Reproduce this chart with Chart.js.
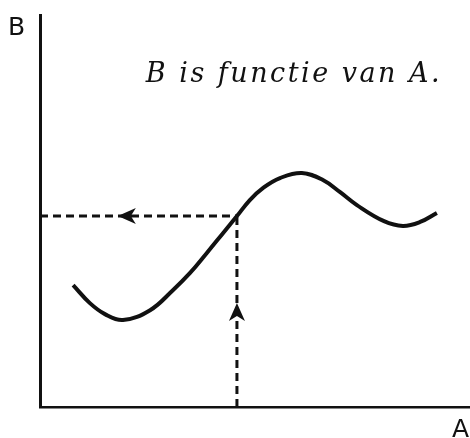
<!DOCTYPE html>
<html>
<head>
<meta charset="utf-8">
<script src="https://cdn.jsdelivr.net/npm/chart.js@4.4.0/dist/chart.umd.min.js"></script>
<style>
html,body{margin:0;padding:0;background:#fff;}
#wrap{width:470px;height:438px;position:relative;}
</style>
</head>
<body>
<div id="wrap"><canvas id="c" width="470" height="438"></canvas></div>
<script>
// Curve: B as a function of A
const curveA = [0.77, 1.16, 1.51, 1.93, 2.56, 3.09, 3.49, 3.88, 4.26, 4.58, 4.88, 5.19, 5.58, 6.09, 6.58, 6.98, 7.37, 8.00, 8.44, 8.84, 9.23];
const curveB = [3.11, 2.65, 2.37, 2.22, 2.47, 2.98, 3.42, 3.93, 4.44, 4.87, 5.28, 5.59, 5.84, 5.97, 5.79, 5.48, 5.15, 4.74, 4.62, 4.72, 4.95];
// Read-off point
const pickA = 4.58;
const pickB = 4.87;
// Arrow positions along the dashed guides
const arrowLeftA = 1.81;
const arrowUpB = 2.65;
const axisNames = ["A", "B"];
const titleText = "B is functie van A.";

const curvePts = curveA.map((a, i) => ({x: a, y: curveB[i]}));

const annot = {
  id: 'annot',
  afterDraw(chart) {
    const ctx = chart.ctx;
    const xs = chart.scales.x, ys = chart.scales.y;
    ctx.save();
    ctx.fillStyle = '#111';
    ctx.strokeStyle = '#111';
    // left arrowhead
    const lx = xs.getPixelForValue(arrowLeftA), ly = ys.getPixelForValue(pickB);
    ctx.beginPath();
    ctx.moveTo(lx, ly);
    ctx.lineTo(lx + 18, ly - 8);
    ctx.lineTo(lx + 13, ly);
    ctx.lineTo(lx + 18, ly + 8);
    ctx.closePath();
    ctx.fill();
    // up arrowhead
    const ux = xs.getPixelForValue(pickA), uy = ys.getPixelForValue(arrowUpB);
    ctx.beginPath();
    ctx.moveTo(ux, uy);
    ctx.lineTo(ux - 8, uy + 18);
    ctx.lineTo(ux, uy + 13);
    ctx.lineTo(ux + 8, uy + 18);
    ctx.closePath();
    ctx.fill();
    // axis names
    ctx.font = '25px "DejaVu Sans"';
    ctx.textBaseline = 'alphabetic';
    ctx.textAlign = 'left';
    ctx.fillText(axisNames[1], 8, 35);
    ctx.fillText(axisNames[0], 452, 437);
    // title
    ctx.font = 'italic 27px "DejaVu Serif"';
    ctx.letterSpacing = '2.5px';
    ctx.textAlign = 'center';
    ctx.fillText(titleText, 294, 82);
    ctx.restore();
  }
};

new Chart(document.getElementById('c'), {
  type: 'line',
  data: {
    datasets: [
      {data: curvePts, borderColor: '#111', borderWidth: 4, pointRadius: 0, tension: 0.4, fill: false},
      {data: [{x: 0, y: pickB}, {x: pickA, y: pickB}], borderColor: '#111', borderWidth: 3, borderDash: [8, 5], pointRadius: 0, fill: false},
      {data: [{x: pickA, y: 0}, {x: pickA, y: pickB}], borderColor: '#111', borderWidth: 3, borderDash: [8, 5], pointRadius: 0, fill: false}
    ]
  },
  options: {
    responsive: false,
    animation: false,
    events: [],
    layout: {padding: {left: 40, top: 15, right: 0, bottom: 31}},
    plugins: {legend: {display: false}, tooltip: {enabled: false}},
    scales: {
      x: {type: 'linear', min: 0, max: 10, grid: {display: false, drawTicks: false}, ticks: {display: false}, border: {display: true, color: '#111', width: 2.5}},
      y: {type: 'linear', min: 0, max: 10, grid: {display: false, drawTicks: false}, ticks: {display: false}, border: {display: true, color: '#111', width: 3}}
    }
  },
  plugins: [annot]
});
</script>
</body>
</html>
